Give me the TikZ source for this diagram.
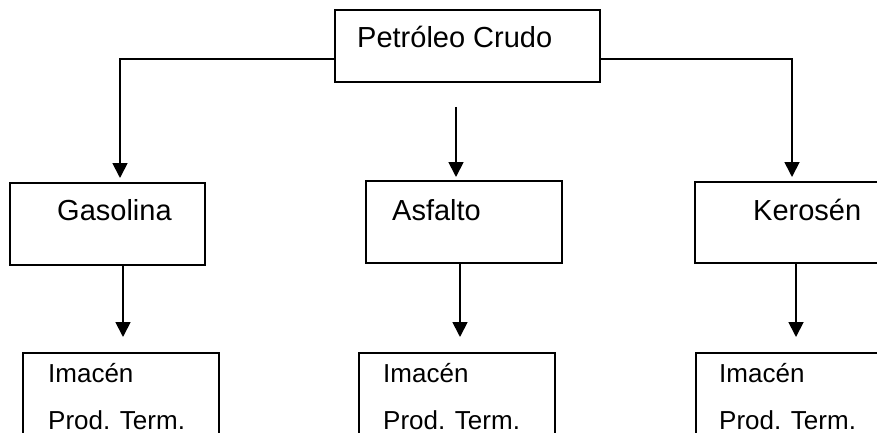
\documentclass[tikz,border=0pt]{standalone}
\usepackage{fontspec}
\setmainfont{Liberation Sans}
\usetikzlibrary{arrows.meta}
\begin{document}
\begin{tikzpicture}[x=1pt,y=-1pt,
  box/.style={draw,line width=1.5pt,inner sep=0pt,outer sep=0pt,anchor=north west,minimum height=#1},
  box/.default=82pt,
  lbl/.style={inner sep=0pt,anchor=base west,font=\fontsize{29}{34}\selectfont},
  sublbl/.style={inner sep=0pt,anchor=base west,font=\fontsize{26}{30}\selectfont},
  arr/.style={line width=1.8pt,-{Triangle[width=15pt,length=15pt]}}]
  \clip (0,0) rectangle (877,433);
  \fill[white] (0,0) rectangle (877,433);

  % boxes
  \node[box=72pt,minimum width=265pt] (crudo) at (335,10) {};
  \node[box,minimum width=195pt] (gas) at (10,183) {};
  \node[box,minimum width=196pt] (asf) at (366,181) {};
  \node[box=81pt,minimum width=230pt] (ker) at (695,182) {};
  \node[box=120pt,minimum width=196pt] (gasb) at (23,353) {};
  \node[box=120pt,minimum width=196pt] (asfb) at (359,353) {};
  \node[box=120pt,minimum width=230pt] (kerb) at (696,353) {};

  % labels
  \node[lbl] (tcrudo) at (357,48) {Petróleo Crudo};
  \node[lbl] (tgas) at (57,220) {Gasolina};
  \node[lbl] (tasf) at (392,220) {Asfalto};
  \node[lbl] (tker) at (753,220) {Kerosén};
  \node[sublbl] (ga1) at (48,382) {Imacén};
  \node[sublbl] (ga2) at (48,429) {Prod. Term.};
  \node[sublbl] (as1) at (383,382) {Imacén};
  \node[sublbl] (as2) at (383,429) {Prod. Term.};
  \node[sublbl] (ke1) at (719,382) {Imacén};
  \node[sublbl] (ke2) at (719,429) {Prod. Term.};

  % connector positions
  \coordinate (forkL) at (120,59);
  \coordinate (forkR) at (792,59);
  \coordinate (midtop) at (456,107);
  \coordinate (colG) at (123,0);
  \coordinate (colA) at (460,0);
  \coordinate (colK) at (796,0);

  % connectors from the top box
  \draw[arr,shorten >=5pt] (crudo.west |- forkL) -- (forkL) -- (forkL |- gas.north);
  \draw[arr,shorten >=5pt] (crudo.east |- forkR) -- (forkR) -- (forkR |- ker.north);
  \draw[arr,shorten >=4pt] (midtop) -- (midtop |- asf.north);

  % connectors to the storage boxes
  \draw[arr,shorten >=16pt] (gas.south -| colG) -- (gasb.north -| colG);
  \draw[arr,shorten >=16pt] (asf.south -| colA) -- (asfb.north -| colA);
  \draw[arr,shorten >=16pt] (ker.south -| colK) -- (kerb.north -| colK);
\end{tikzpicture}
\end{document}
